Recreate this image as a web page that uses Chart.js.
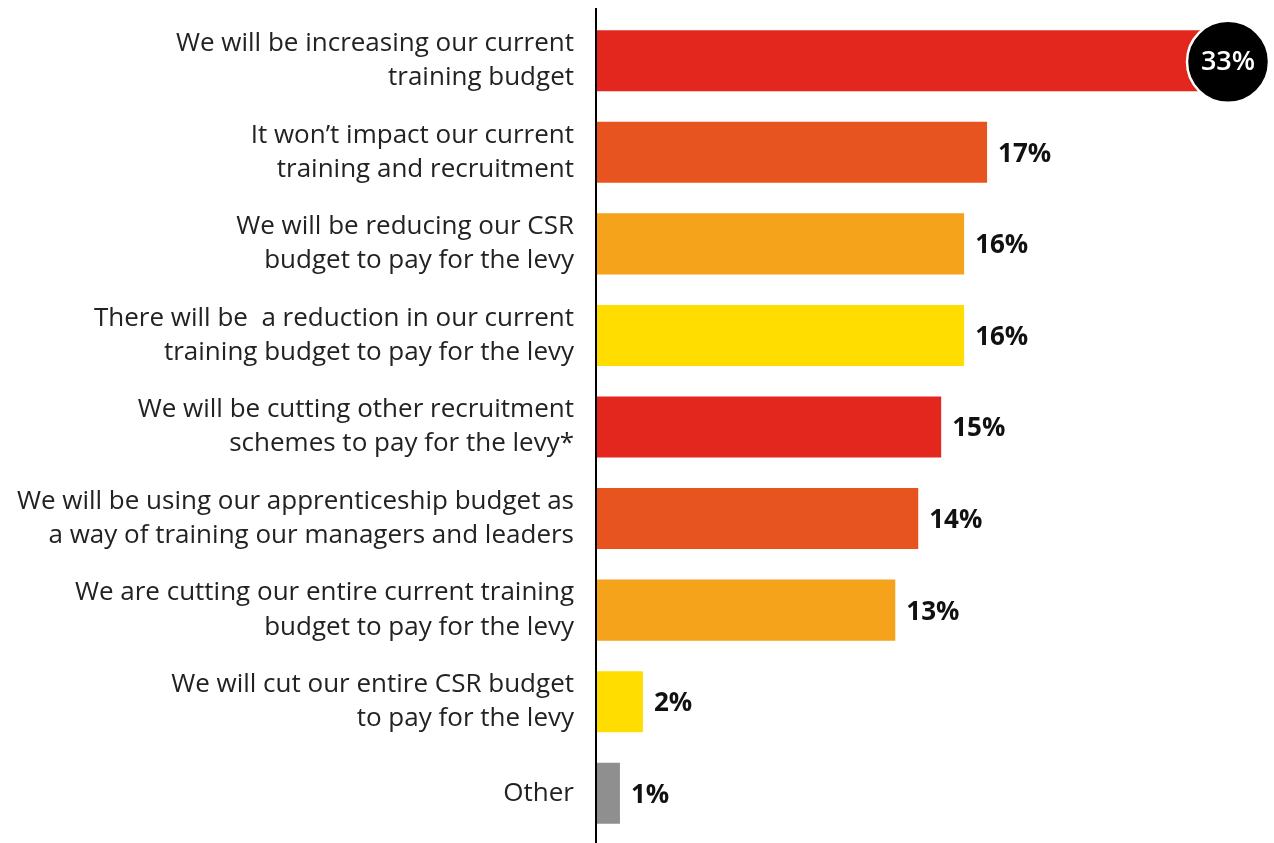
<!DOCTYPE html>
<html>
<head>
<meta charset="utf-8">
<script src="https://cdn.jsdelivr.net/npm/chart.js@4/dist/chart.umd.min.js"></script>
<style>
  html, body { margin: 0; padding: 0; background: #fff; }
  #wrap { width: 1274px; height: 843px; position: relative; }
</style>
</head>
<body>
<div id="wrap"><canvas id="graphique"></canvas></div>
<script>
// Libellés des réponses (deux lignes chacun)
const categories = [
  ["We will be increasing our current", "training budget"],
  ["It won\u2019t impact our current", "training and recruitment"],
  ["We will be reducing our CSR", "budget to pay for the levy"],
  ["There will be  a reduction in our current", "training budget to pay for the levy"],
  ["We will be cutting other recruitment", "schemes to pay for the levy*"],
  ["We will be using our apprenticeship budget as", "a way of training our managers and leaders"],
  ["We are cutting our entire current training", "budget to pay for the levy"],
  ["We will cut our entire CSR budget", "to pay for the levy"],
  ["Other"]
];
// Pourcentages
const valeurs = [33, 17, 16, 16, 15, 14, 13, 2, 1];
const couleurs = ["#E3261E", "#E85420", "#F5A31A", "#FFDD00", "#E3261E", "#E85420", "#F5A31A", "#FFDD00", "#8F8F8F"];

const police = "'Open Sans', Lato, sans-serif";

// Étiquettes de valeur + bulle noire pour la première barre + trait vertical
const etiquettes = {
  id: "etiquettes",
  afterDatasetsDraw(chart) {
    const ctx = chart.ctx;
    const meta = chart.getDatasetMeta(0);
    ctx.save();
    meta.data.forEach((bar, i) => {
      const texte = valeurs[i] + "%";
      if (i === 0) {
        const cx = chart.chartArea.right;
        ctx.beginPath();
        ctx.arc(cx, bar.y + 1, 41, 0, Math.PI * 2);
        ctx.fillStyle = "#000";
        ctx.fill();
        ctx.lineWidth = 2.5;
        ctx.strokeStyle = "#fff";
        ctx.stroke();
        ctx.fillStyle = "#fff";
        ctx.font = "600 27px " + police;
        ctx.textAlign = "center";
        ctx.textBaseline = "middle";
        ctx.fillText(texte, cx, bar.y + 2);
      } else {
        ctx.fillStyle = "#111";
        ctx.font = "bold 26px " + police;
        ctx.textAlign = "left";
        ctx.textBaseline = "middle";
        ctx.fillText(texte, bar.x + 11, bar.y + 2);
      }
    });
    // axe vertical
    ctx.beginPath();
    ctx.moveTo(596, 8);
    ctx.lineTo(596, 843);
    ctx.lineWidth = 2;
    ctx.strokeStyle = "#000";
    ctx.stroke();
    ctx.restore();
  }
};

const config = {
  type: "bar",
  data: {
    labels: categories,
    datasets: [{
      data: valeurs,
      backgroundColor: couleurs,
      borderWidth: 0,
      categoryPercentage: 1,
      barPercentage: 0.667
    }]
  },
  options: {
    indexAxis: "y",
    responsive: true,
    maintainAspectRatio: false,
    animation: false,
    layout: { padding: { top: 15, bottom: 4, right: 46, left: 0 } },
    plugins: { legend: { display: false }, tooltip: { enabled: false } },
    scales: {
      x: { display: false, min: 0, max: 27.5 },
      y: {
        afterFit(scale) {
          scale.width = 597;
          scale.paddingTop = 0;
          scale.paddingBottom = 0;
        },
        grid: { display: false, drawTicks: false },
        border: { display: false },
        ticks: {
          padding: 23,
          color: "#222",
          font: { family: police, size: 26, lineHeight: 1.31, weight: "normal" }
        }
      }
    }
  },
  plugins: [etiquettes]
};

new Chart(document.querySelector("#graphique"), config);
</script>
</body>
</html>
